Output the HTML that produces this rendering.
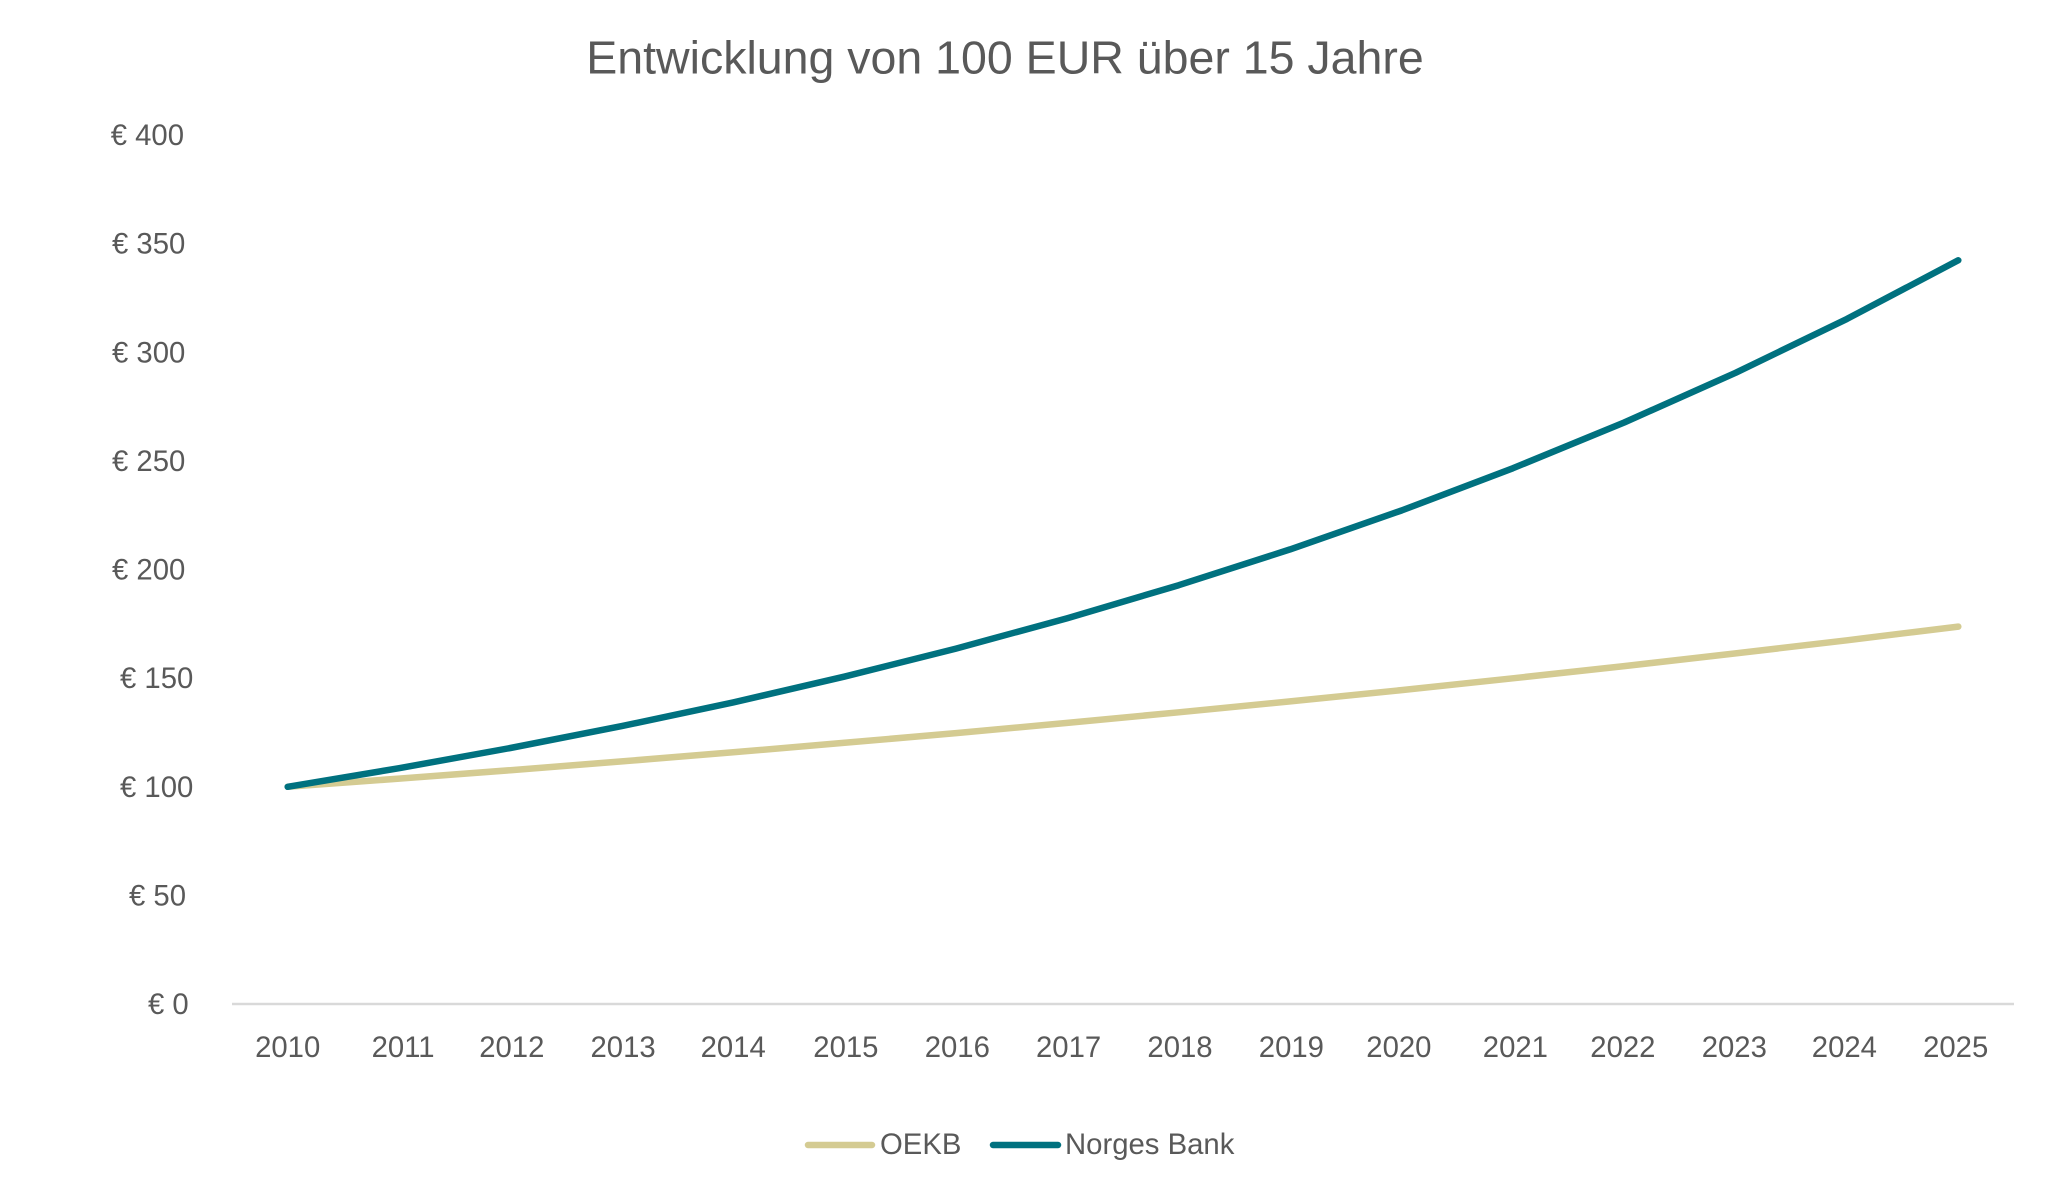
<!DOCTYPE html>
<html>
<head>
<meta charset="utf-8">
<style>
  html,body{margin:0;padding:0;background:#fff;}
  svg{display:block;}
  text{font-family:"Liberation Sans",Arial,sans-serif;fill:#595959;}
</style>
</head>
<body>
<svg width="2048" height="1191" viewBox="0 0 2048 1191" xmlns="http://www.w3.org/2000/svg">
  <rect width="2048" height="1191" fill="#fff"/>
  <!-- Title -->
  <text x="1005" y="73.5" font-size="46.5" text-anchor="middle">Entwicklung von 100 EUR über 15 Jahre</text>

  <!-- Y axis labels -->
  <g font-size="29.3">
    <text x="110.7" y="145">€ 400</text>
    <text x="112" y="253.6">€ 350</text>
    <text x="112" y="362.3">€ 300</text>
    <text x="112" y="470.9">€ 250</text>
    <text x="112" y="579.5">€ 200</text>
    <text x="120" y="688.1">€ 150</text>
    <text x="120" y="796.8">€ 100</text>
    <text x="129" y="905.4">€ 50</text>
    <text x="148" y="1014">€ 0</text>
  </g>

  <!-- X axis line -->
  <line x1="232" y1="1004" x2="2014" y2="1004" stroke="#d9d9d9" stroke-width="2.5"/>

  <!-- X axis labels -->
  <g font-size="29.3" text-anchor="middle" id="xl"></g>

  <!-- Series -->
  <polyline id="oekb" fill="none" stroke="#d4cb92" stroke-width="6.5" stroke-linecap="round" stroke-linejoin="round" points=""/>
  <polyline id="nb" fill="none" stroke="#00717f" stroke-width="6.5" stroke-linecap="round" stroke-linejoin="round" points=""/>

  <!-- Legend -->
  <line x1="808" y1="1145" x2="872" y2="1145" stroke="#d4cb92" stroke-width="6.5" stroke-linecap="round"/>
  <text x="880" y="1154" font-size="29.3">OEKB</text>
  <line x1="993" y1="1145" x2="1058" y2="1145" stroke="#00717f" stroke-width="6.5" stroke-linecap="round"/>
  <text x="1065" y="1154" font-size="29.3">Norges Bank</text>
</svg>
<script>
(function(){
  var x0=287.7, step=111.375, y0=1004, k=2.1725;
  var off=[0,4,1.3,1.3,0,1.3,1.3,1.3,1.3,1.3,-2.6,2.6,-1.3,-1.3,-2.6,-2.6];
  var xl=document.getElementById('xl');
  var ns="http://www.w3.org/2000/svg";
  var p1=[],p2=[];
  for(var i=0;i<16;i++){
    var x=x0+i*step;
    var t=document.createElementNS(ns,'text');
    t.setAttribute('x',(x+off[i]).toFixed(1));
    t.setAttribute('y','1057');
    t.textContent=String(2010+i);
    xl.appendChild(t);
    var v1=100*Math.pow(1.0375,i);
    var v2=100*Math.pow(1.0855,i);
    p1.push(x.toFixed(1)+','+(y0-v1*k).toFixed(1));
    p2.push(x.toFixed(1)+','+(y0-v2*k).toFixed(1));
  }
  document.getElementById('oekb').setAttribute('points',p1.join(' '));
  document.getElementById('nb').setAttribute('points',p2.join(' '));
})();
</script>
</body>
</html>
